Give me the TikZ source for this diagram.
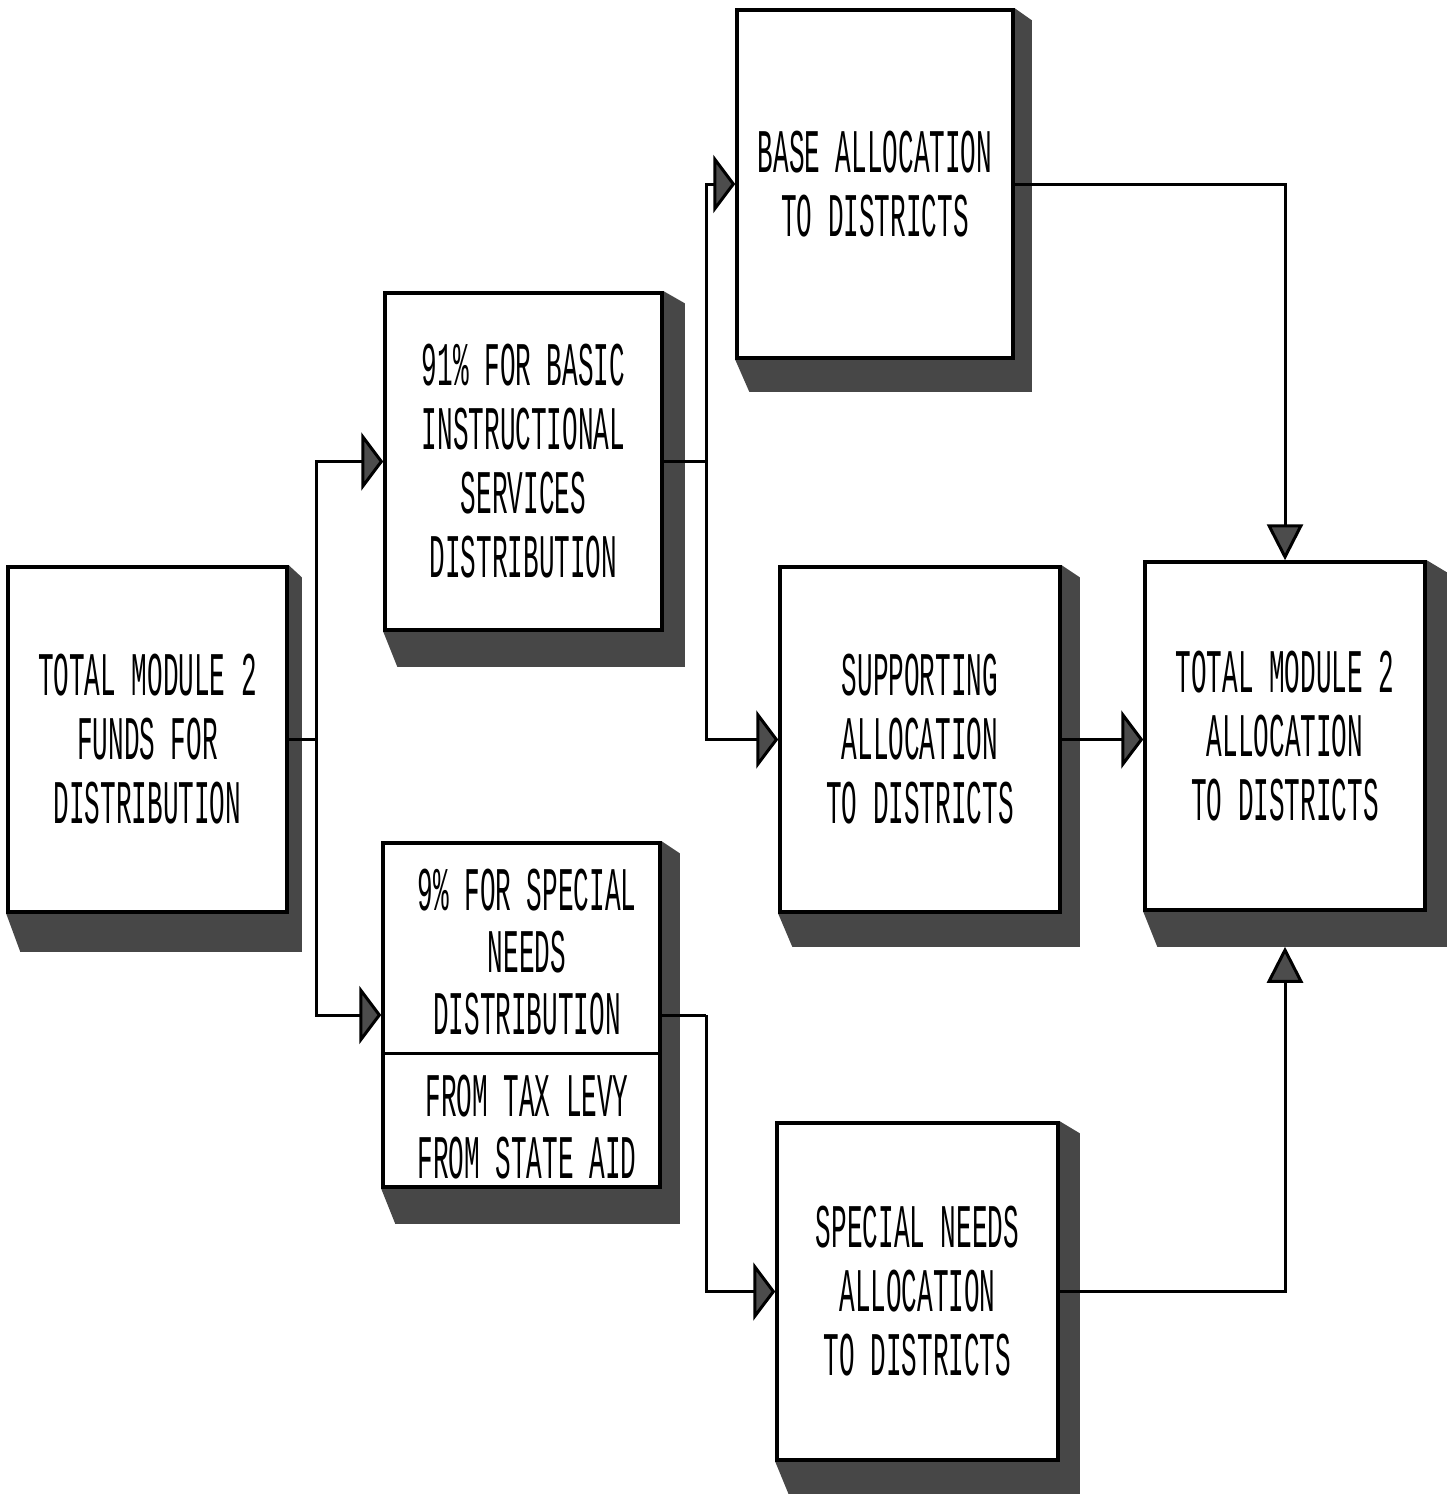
\documentclass[tikz,border=0pt]{standalone}
\usepackage{fontspec}
\newfontfamily\boxfont[FakeStretch=0.42]{Liberation Mono}
\usetikzlibrary{arrows.meta,backgrounds}
\tikzset{
  box/.style={draw, line width=3.5pt, fill=white, inner sep=0pt, align=center,
    font=\boxfont\fontsize{62}{64}\selectfont},
  boxtext/.style={inner sep=0pt, align=center, font=\boxfont\fontsize{62}{62}\selectfont},
  shadowfill/.style={fill=black!72},
  conn/.style={line width=3pt},
  harrow/.style={conn, -{Triangle[length=22pt,width=58pt,fill=black!70]}},
  varrow/.style={conn, -{Triangle[length=36pt,width=36pt,fill=black!70]}},
}
\newcommand\boxshadow[3]{%
  \fill[shadowfill] (#1.north east) -- ([xshift=#2pt,yshift=-12pt]#1.north east)
    -- ([xshift=#2pt,yshift=-#3pt]#1.south east)
    -- ([xshift=14pt,yshift=-#3pt]#1.south west) -- (#1.south west) -- cycle;}
\begin{document}
\begin{tikzpicture}[x=1pt,y=-1pt]
\useasboundingbox (0,0) rectangle (1456,1494);

\node[box, minimum width=279pt, minimum height=345pt] (funds) at (147.5,739.5)
  {TOTAL MODULE 2\\FUNDS FOR\\DISTRIBUTION};
\node[box, minimum width=277pt, minimum height=337pt] (basic) at (523.5,461.5)
  {91\% FOR BASIC\\INSTRUCTIONAL\\SERVICES\\DISTRIBUTION};
\node[box, minimum width=277pt, minimum height=344pt] (sp9) at (521.5,1015) {};
\node[boxtext] (sp9a) at (527,952) {9\% FOR SPECIAL\\NEEDS\\DISTRIBUTION};
\node[boxtext] (sp9b) at (527,1127) {FROM TAX LEVY\\FROM STATE AID};
\node[box, minimum width=276pt, minimum height=348pt] (base) at (875,184)
  {BASE ALLOCATION\\TO DISTRICTS};
\node[box, minimum width=280pt, minimum height=345pt] (supp) at (920,739.5)
  {SUPPORTING\\ALLOCATION\\TO DISTRICTS};
\node[box, minimum width=280pt, minimum height=348pt] (total) at (1285,736)
  {TOTAL MODULE 2\\ALLOCATION\\TO DISTRICTS};
\node[box, minimum width=281pt, minimum height=337pt] (needs) at (917.5,1291.5)
  {SPECIAL NEEDS\\ALLOCATION\\TO DISTRICTS};

\coordinate (dv) at (0,1053);
\draw[line width=3pt] (sp9.west |- dv) -- (sp9.east |- dv);

\begin{scope}[on background layer]
  \fill[white] (0,0) rectangle (1456,1494);
  \boxshadow{funds}{13}{38}
  \boxshadow{basic}{21}{35}
  \boxshadow{sp9}{18}{35}
  \boxshadow{base}{17}{32}
  \boxshadow{supp}{18}{33}
  \boxshadow{total}{20}{35}
  \boxshadow{needs}{20}{34}
\end{scope}

\coordinate (j1) at (316,739.5);
\draw[conn] (funds.east) -- (j1);
\draw[harrow] (j1) |- (basic.west);
\draw[harrow] (j1) |- (sp9.west);
\coordinate (j2) at (706,461.5);
\draw[conn] (basic.east) -- (j2);
\draw[harrow] (j2) |- (base.west);
\draw[harrow] (j2) |- (supp.west);
\draw[varrow] (base.east) -| (total.north);
\draw[harrow] (supp.east) -- (supp.east -| total.west);
\coordinate (j3) at (706,1015);
\draw[conn] (sp9.east) -- (j3);
\draw[harrow] (j3) |- (needs.west);
\coordinate (tb) at ([yshift=-35pt]total.south);
\draw[varrow] (needs.east) -| (tb);
\end{tikzpicture}
\end{document}
